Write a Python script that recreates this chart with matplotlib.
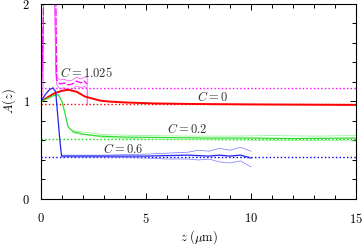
import matplotlib
matplotlib.use('Agg')
import matplotlib.pyplot as plt
from matplotlib.ticker import MultipleLocator

plt.rcParams['mathtext.fontset'] = 'cm'
plt.rcParams['font.family'] = 'serif'
plt.rcParams['font.serif'] = ['cmr10', 'DejaVu Serif']
plt.rcParams['axes.unicode_minus'] = False

# C = 1.025 (magenta)
z_mag = [0, 0.05, 0.12, 0.17, 0.68, 0.75, 0.9, 1.1, 1.3, 1.5, 1.7, 1.9, 2.05, 2.2]
a_mag = [1.02, 1.3, 2.0, 2.6, 2.6, 1.22, 1.18, 1.19, 1.17, 1.18, 1.21, 1.19, 1.21, 1.18]
zb_mag = [0.0, 0.1, 0.15, 0.62, 0.7, 0.75, 0.9, 1.1, 1.3, 1.5, 1.7, 1.9, 2.05, 2.2, 2.2]
up_mag = [1.05, 1.6, 2.6, 2.6, 1.35, 1.25, 1.22, 1.23, 1.21, 1.22, 1.25, 1.23, 1.25, 1.25, 0.96]
lo_mag = [1.0, 1.1, 2.6, 2.6, 1.28, 1.17, 1.13, 1.14, 1.12, 1.13, 1.16, 1.14, 1.16, 1.13, 0.96]
ref_mag = 1.14

# C = 0 (red)
z_red = [0, 0.3, 0.6, 1.0, 1.3, 1.7, 2.1, 2.8, 3.2, 4, 5.4, 7, 10, 15]
a_red = [1.0, 1.04, 1.08, 1.11, 1.12, 1.1, 1.05, 1.01, 1.0, 0.99, 0.98, 0.975, 0.97, 0.965]
ref_red = 0.975

# C = 0.2 (green)
z_grn = [0, 0.3, 0.6, 0.82, 1.0, 1.14, 1.29, 1.54, 2, 2.8, 4, 6, 8, 10, 12, 15]
a_grn = [1.0, 1.03, 1.06, 1.07, 1.0, 0.88, 0.74, 0.69, 0.665, 0.645, 0.635, 0.63, 0.625, 0.625, 0.62, 0.625]
zb_grn = [1.5, 3, 5, 7, 9, 11, 13, 15]
up_grn = [0.70, 0.66, 0.65, 0.645, 0.645, 0.65, 0.645, 0.65]
lo_grn = [0.68, 0.63, 0.615, 0.61, 0.605, 0.60, 0.60, 0.595]
ref_grn = 0.615

# C = 0.6 (blue)
z_blu = [0, 0.2, 0.4, 0.57, 0.7, 0.8, 0.9, 0.98, 1.2, 2, 3, 4, 5, 6, 7, 8, 8.5, 9, 9.5, 10]
a_blu = [1.0, 1.07, 1.12, 1.14, 1.1, 0.85, 0.6, 0.44, 0.44, 0.44, 0.44, 0.44, 0.44, 0.445, 0.45, 0.44, 0.45, 0.44, 0.45, 0.42]
zb_blu = [1, 2, 3, 4, 5, 6, 7, 7.5, 8, 8.5, 9, 9.5, 10]
up_blu = [0.45, 0.45, 0.45, 0.455, 0.46, 0.47, 0.48, 0.50, 0.49, 0.52, 0.50, 0.53, 0.49]
lo_blu = [0.43, 0.43, 0.43, 0.425, 0.42, 0.41, 0.41, 0.40, 0.41, 0.38, 0.37, 0.39, 0.33]
ref_blu = 0.43

fig = plt.figure(figsize=(3.64, 2.49), dpi=100)
ax = fig.add_axes([0.1126, 0.2008, 0.8654, 0.7832])

# reference levels
ax.axhline(ref_mag, color='#ff00ff', ls=':', lw=1.0)
ax.axhline(ref_red, color='#ff0000', ls=':', lw=1.0)
ax.axhline(ref_grn, color='#00dd00', ls=':', lw=1.0)
ax.axhline(ref_blu, color='#0000ee', ls=':', lw=1.0)

# error bands
ax.plot(zb_mag, up_mag, color='#ff44ff', lw=0.5)
ax.plot(zb_mag, lo_mag, color='#ff44ff', lw=0.5)
ax.plot(zb_grn, up_grn, color='#88ee88', lw=0.5)
ax.plot(zb_grn, lo_grn, color='#88ee88', lw=0.5)
ax.plot(zb_blu, up_blu, color='#7777ff', lw=0.5)
ax.plot(zb_blu, lo_blu, color='#7777ff', lw=0.5)

# main curves
ax.plot(z_mag, a_mag, color='#ff00ff', lw=0.9, ls=(0, (6, 1.5)))
ax.plot(z_red, a_red, color='#ff0000', lw=1.4)
ax.plot(z_grn, a_grn, color='#33dd33', lw=0.9)
ax.plot(z_blu, a_blu, color='#2222ee', lw=0.9)

fs = 9
tc = '#333333'
ax.text(0.9, 1.25, r'$C = 1.025$', fontsize=fs, ha='left', va='baseline', color=tc)
ax.text(7.45, 1.0, r'$C = 0$', fontsize=fs, ha='left', va='baseline', color=tc)
ax.text(6.0, 0.675, r'$C = 0.2$', fontsize=fs, ha='left', va='baseline', color=tc)
ax.text(2.95, 0.47, r'$C = 0.6$', fontsize=fs, ha='left', va='baseline', color=tc)

ax.set_xlim(0, 15)
ax.set_ylim(0, 2)
ax.xaxis.set_minor_locator(MultipleLocator(1))
ax.yaxis.set_minor_locator(MultipleLocator(0.2))
ax.set_xticks([0, 5, 10, 15])
ax.set_xticklabels(['$0$', '$5$', '$10$', '$15$'])
ax.set_yticks([0, 1, 2])
ax.set_yticklabels(['$0$', '$1$', '$2$'])
ax.tick_params(which='both', direction='in', top=True, right=True, labelsize=fs, width=0.7)
ax.tick_params(axis='x', which='major', length=4, pad=9)
ax.tick_params(axis='y', which='major', length=4, pad=8)
ax.tick_params(which='minor', length=3)
for s in ax.spines.values():
    s.set_linewidth(0.8)

ax.set_xlabel(r'$z\ (\mu\mathrm{m})$', fontsize=fs, labelpad=2)
ax.set_ylabel(r'$A(z)$', fontsize=fs, labelpad=3)

fig.savefig('out.png', dpi=100)
